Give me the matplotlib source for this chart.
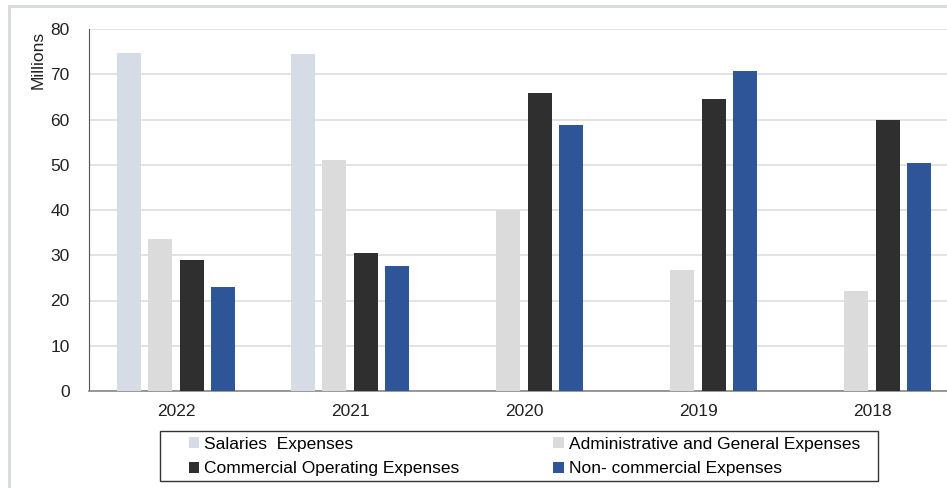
import numpy as np
import matplotlib.pyplot as plt
from matplotlib.patches import Rectangle

plt.rcParams['font.family'] = ['Liberation Sans', 'DejaVu Sans']

years = ["2022", "2021", "2020", "2019", "2018"]
salaries = [74.6, 74.5, 0, 0, 0]
admin_general = [33.6, 51.0, 40.0, 26.8, 22.0]
commercial_operating = [29.0, 30.5, 65.8, 64.5, 59.9]
non_commercial = [23.0, 27.7, 58.7, 70.7, 50.3]

series = [
    ("Salaries  Expenses", salaries, "#D5DCE5"),
    ("Administrative and General Expenses", admin_general, "#DBDBDB"),
    ("Commercial Operating Expenses", commercial_operating, "#302F2F"),
    ("Non- commercial Expenses", non_commercial, "#2E5597"),
]

W, H = 947, 488
fig = plt.figure(figsize=(W / 100, H / 100), dpi=100)

# thin light frame around the chart area
fig.patches.append(Rectangle((9 / W, -0.05), 1.0, (H - 6) / H + 0.05,
                             transform=fig.transFigure, fill=False,
                             edgecolor="#D9DCDC", linewidth=2.2))

# plot area runs off the right edge
ax = fig.add_axes([89 / W, (H - 391) / H, 870 / W, 362 / H])

x = np.arange(len(years))
step = 0.181
width = 0.138
bars = []
for i, (name, vals, col) in enumerate(series):
    bars.append(ax.bar(x + (i - 1.5) * step, vals, width, color=col, label=name, zorder=3))

ax.set_xlim(-0.5, len(years) - 0.5)
ax.set_ylim(0, 80)
ax.set_yticks(range(0, 81, 10))
ax.set_xticks(x)
ax.set_xticklabels(years)
ax.tick_params(axis="both", length=0, labelsize=12.5, colors="#222222")
ax.tick_params(axis="x", pad=9)
ax.tick_params(axis="y", pad=14)
ax.yaxis.grid(True, color="#DEDEDE", linewidth=1.2, zorder=0)
ax.set_axisbelow(True)

for s in ["top", "right"]:
    ax.spines[s].set_visible(False)
ax.spines["left"].set_color("#555555")
ax.spines["bottom"].set_color("#888888")
ax.spines["bottom"].set_linewidth(1.2)

ax.set_ylabel("Millions", fontsize=12.5, color="#222222")
ax.yaxis.set_label_coords(-0.05, 0.915)

# legend box drawn separately, entries filled row by row
fig.patches.append(Rectangle((160 / W, (H - 481) / H), 718 / W, 50 / H,
                             transform=fig.transFigure, fill=False,
                             edgecolor="#333333", linewidth=1.0))
order = [0, 2, 1, 3]
leg = fig.legend([bars[i] for i in order], [series[i][0] for i in order],
                 loc="upper left", bbox_to_anchor=(186 / W, (H - 434) / H),
                 ncol=2, fontsize=12.5, frameon=False,
                 handlelength=0.6, handleheight=0.6, handletextpad=0.3,
                 borderpad=0.15, borderaxespad=0, labelspacing=0.57, columnspacing=5.4)

fig.savefig("out.png", dpi=100)
